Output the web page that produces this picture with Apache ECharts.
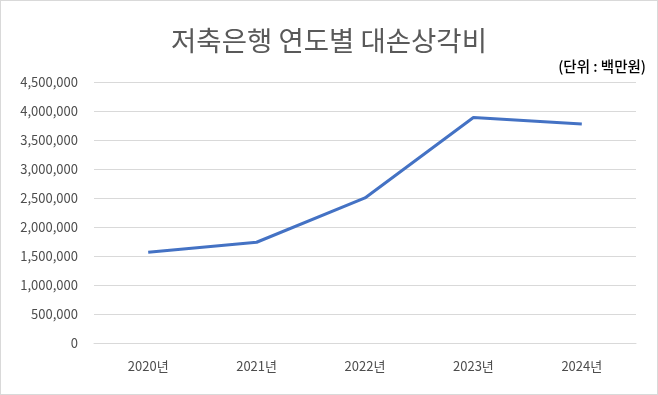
<!DOCTYPE html>
<html>
<head>
<meta charset="utf-8">
<script src="https://cdn.jsdelivr.net/npm/echarts@6/dist/echarts.min.js"></script>
<style>
html,body{margin:0;padding:0;background:#fff;}
#c{width:658px;height:395px;box-sizing:border-box;border:1px solid #d9d9d9;}
</style>
</head>
<body>
<div id="c"></div>
<script>
const categories = ['2020년', '2021년', '2022년', '2023년', '2024년'];
const values = [1565000, 1737000, 2501000, 3888000, 3775000];
const titleText = '저축은행 연도별 대손상각비';
const unitText = '(단위 : 백만원)';

const chart = echarts.init(document.getElementById('c'));
const font = '"Noto Sans CJK KR", "Noto Sans", sans-serif';
chart.setOption({
  animation: false,
  title: [{
    text: titleText, left: 'center', top: 21,
    textStyle: {fontFamily: font, fontSize: 27.5, fontWeight: 'normal', color: '#595959'}
  }, {
    text: unitText, right: 6, top: 53,
    textStyle: {fontFamily: font, fontSize: 14.5, fontWeight: 500, color: '#000'}
  }],
  grid: {left: 93, right: 21, top: 81, bottom: 51, containLabel: false},
  xAxis: {
    type: 'category', data: categories, boundaryGap: true,
    axisLine: {lineStyle: {color: '#d9d9d9'}},
    axisTick: {show: false},
    axisLabel: {fontFamily: font, fontSize: 13, color: '#4d4d4d', margin: 17}
  },
  yAxis: {
    type: 'value', min: 0, max: 4500000, interval: 500000,
    axisLine: {show: false}, axisTick: {show: false},
    splitLine: {lineStyle: {color: '#d9d9d9', width: 1}},
    axisLabel: {fontFamily: font, fontSize: 13, color: '#4d4d4d', margin: 16,
      formatter: v => v.toLocaleString('en-US')}
  },
  series: [{
    type: 'line', data: values, symbol: 'none',
    lineStyle: {color: '#4472C4', width: 3}
  }]
});
</script>
</body>
</html>
